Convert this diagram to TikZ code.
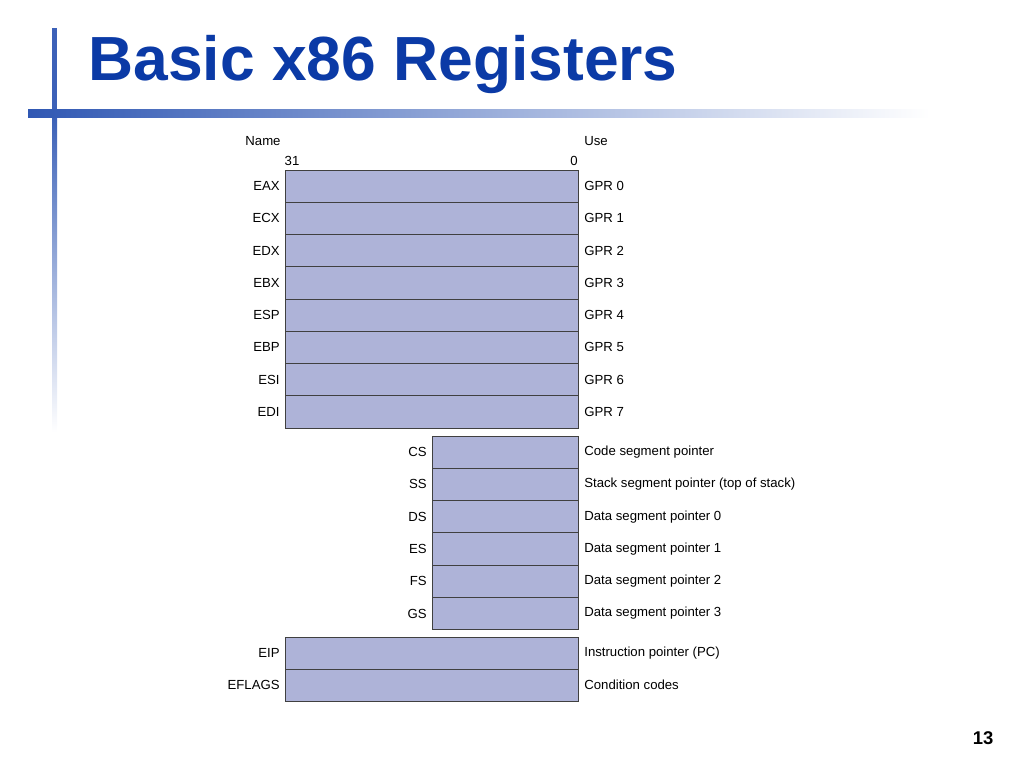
\documentclass[tikz,border=0pt]{standalone}
\usepackage{fontspec}
\setmainfont{Liberation Sans}
\usetikzlibrary{positioning}
\definecolor{titleblue}{HTML}{0B3AA6}
\definecolor{regfill}{HTML}{AEB3D8}
\tikzset{
  reg/.style={draw=black!75,fill=regfill,line width=0.5pt},
  lbl/.style={font=\fontsize{7.5}{9}\selectfont,inner sep=0pt}
}
\begin{document}
\begin{tikzpicture}[x=0.02cm,y=-0.02cm]
  \useasboundingbox (0,0) rectangle (1024,768);

  % slide decoration
  \shade[top color=titleblue!80,bottom color=white] (52,118) rectangle (57,432);
  \fill[titleblue!80] (52,28) rectangle (57,118);
  \shade[left color=titleblue!85,right color=white] (28,109) rectangle (930,117);
  \node (title) [anchor=base west,inner sep=0pt,text=titleblue,font=\fontsize{35.5}{40}\selectfont\bfseries] at (88,80) {Basic x86 Registers};
  \node (page) [inner sep=0pt,font=\fontsize{10.5}{12}\selectfont\bfseries] at (983,738) {13};

  % headings
  \node (name) [lbl] at (263,141) {Name};
  \node (use) [lbl,anchor=west] at (584,141) {Use};
  \node (b31) [lbl] at (292,161) {31};
  \node (b0) [lbl] at (574,161) {0};

  % general purpose registers
  \foreach \r/\u [count=\i from 0] in {EAX/GPR 0,ECX/GPR 1,EDX/GPR 2,EBX/GPR 3,ESP/GPR 4,EBP/GPR 5,ESI/GPR 6,EDI/GPR 7} {
    \draw[reg] (285,170+32.25*\i) rectangle (578,202.25+32.25*\i);
    \node (g\i) [lbl,anchor=east] at (280,186+32.25*\i) {\r};
    \node (gu\i) [lbl,anchor=west] at (584,186+32.25*\i) {\u};
  }

  % segment registers
  \foreach \r/\u [count=\i from 0] in {CS/Code segment pointer,SS/Stack segment pointer (top of stack),DS/Data segment pointer 0,ES/Data segment pointer 1,FS/Data segment pointer 2,GS/Data segment pointer 3} {
    \draw[reg] (432,436+32.3*\i) rectangle (578,468.3+32.3*\i);
    \node (s\i) [lbl,anchor=east] at (427,452+32.3*\i) {\r};
    \node (su\i) [lbl,anchor=west] at (584,452+32.3*\i) {\u};
  }

  % status registers
  \foreach \r/\u [count=\i from 0] in {EIP/Instruction pointer (PC),EFLAGS/Condition codes} {
    \draw[reg] (285,637+32.2*\i) rectangle (578,669.2+32.2*\i);
    \node (e\i) [lbl,anchor=east] at (280,653+32.2*\i) {\r};
    \node (eu\i) [lbl,anchor=west] at (584,653+32.2*\i) {\u};
  }
\end{tikzpicture}
\end{document}
